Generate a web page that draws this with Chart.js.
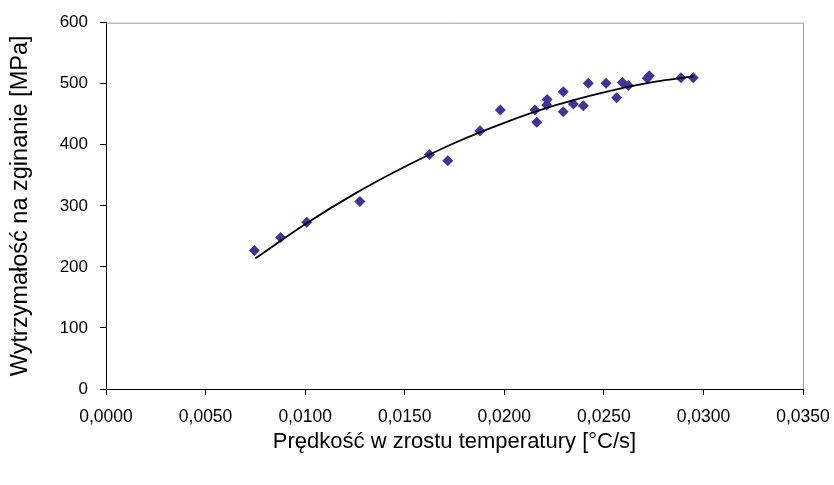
<!DOCTYPE html>
<html>
<head>
<meta charset="utf-8">
<script src="https://cdn.jsdelivr.net/npm/chart.js@4/dist/chart.umd.min.js"></script>
<style>
html,body{margin:0;padding:0;background:#fff;}
#wrap{width:834px;height:485px;}
</style>
</head>
<body>
<div id="wrap"><canvas id="c" width="834" height="485"></canvas></div>
<script>
// Measured points
const pointX = [0.00745, 0.00877, 0.01008, 0.01275, 0.01624, 0.01716, 0.01878, 0.0198, 0.02154, 0.02163, 0.02213, 0.02215, 0.02296, 0.02296, 0.02347, 0.02397, 0.02422, 0.02511, 0.02564, 0.02593, 0.02623, 0.02718, 0.02728, 0.02887, 0.02949];
const pointY = [227, 248, 273, 307, 384, 374, 423, 457, 457, 437, 465, 474, 487, 454, 467, 464, 501, 501, 477, 502, 497, 509, 513, 510, 510];
// Trend line
const trendX = [0.0075, 0.0100, 0.0125, 0.0150, 0.0175, 0.0200, 0.0225, 0.0250, 0.0275, 0.0295];
const trendY = [214, 270, 320, 364, 403, 436, 464, 486, 503, 512];
// Axis ticks
const xTicks = [0, 0.005, 0.010, 0.015, 0.020, 0.025, 0.030, 0.035];
const yTicks = [0, 100, 200, 300, 400, 500, 600];
const xTitle = 'Prędkość w zrostu temperatury [°C/s]';
const yTitle = 'Wytrzymałość na zginanie [MPa]';

const points = pointX.map((x, i) => ({x: x, y: pointY[i]}));
const trend = trendX.map((x, i) => ({x: x, y: trendY[i]}));

const frame = {
  id: 'frame',
  afterDatasetsDraw(chart) {
    const {ctx, chartArea: a} = chart;
    ctx.save();
    ctx.strokeStyle = '#999999';
    ctx.lineWidth = 1;
    ctx.beginPath();
    ctx.moveTo(a.left, a.top + 0.5);
    ctx.lineTo(a.right + 0.5, a.top + 0.5);
    ctx.lineTo(a.right + 0.5, a.bottom);
    ctx.stroke();
    ctx.restore();
  }
};

const fam = '"Liberation Sans", Arial, sans-serif';

new Chart(document.getElementById('c'), {
  type: 'scatter',
  data: {
    datasets: [
      {
        type: 'line',
        data: trend,
        borderColor: '#000000',
        borderWidth: 1.8,
        pointRadius: 0,
        tension: 0.4,
        fill: false
      },
      {
        data: points,
        pointStyle: 'rectRot',
        pointRadius: 5.5,
        backgroundColor: '#3F3598',
        borderColor: '#3F3598',
        borderWidth: 0
      }
    ]
  },
  options: {
    responsive: false,
    animation: false,
    events: [],
    layout: {padding: {left: 0, right: 31, top: 22.7, bottom: 0}},
    plugins: {legend: {display: false}, tooltip: {enabled: false}},
    scales: {
      x: {
        type: 'linear',
        min: 0, max: 0.035,
        afterBuildTicks(s) { s.ticks = xTicks.map(v => ({value: v})); },
        afterFit(s) { s.height = 96; s.paddingLeft = 0; s.paddingRight = 0; },
        ticks: {
          color: '#000', font: {family: fam, size: 17.5}, padding: 12,
          maxRotation: 0, autoSkip: false,
          callback: v => v.toFixed(4).replace('.', ',')
        },
        grid: {display: true, drawOnChartArea: false, drawTicks: true, tickLength: 6, color: '#000', lineWidth: 1},
        border: {display: true, color: '#000', width: 1},
        title: {display: true, text: xTitle, color: '#000',
          font: {family: fam, size: 22},
          padding: {top: 0, bottom: 30}}
      },
      y: {
        type: 'linear',
        min: 0, max: 600,
        afterBuildTicks(s) { s.ticks = yTicks.map(v => ({value: v})); },
        afterFit(s) { s.width = 106; s.paddingTop = 0; s.paddingBottom = 0; },
        ticks: {color: '#000', font: {family: fam, size: 17}, padding: 12},
        grid: {display: true, drawOnChartArea: false, drawTicks: true, tickLength: 6, color: '#000', lineWidth: 1},
        border: {display: true, color: '#000', width: 1},
        title: {display: true, text: yTitle, color: '#000',
          font: {family: fam, size: 23.5},
          padding: {top: 6, bottom: 0}}
      }
    }
  },
  plugins: [frame]
});
</script>
</body>
</html>
